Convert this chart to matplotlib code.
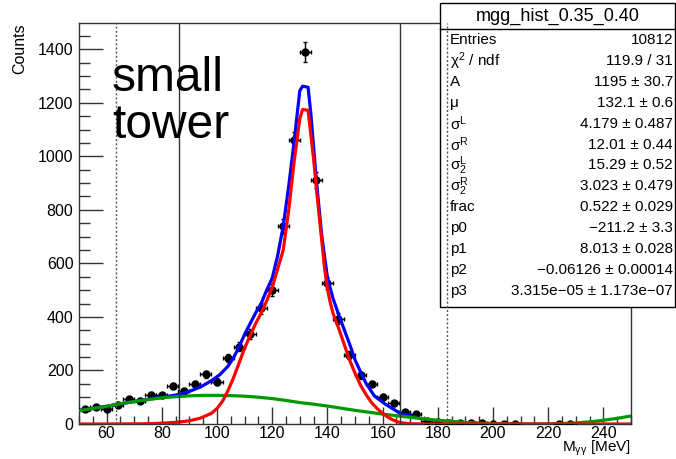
import numpy as np
import matplotlib
matplotlib.use('Agg')
import matplotlib.pyplot as plt
from matplotlib.patches import Rectangle
from matplotlib.ticker import MultipleLocator

plt.rcParams['font.family'] = ['Liberation Sans', 'DejaVu Sans']
plt.rcParams['mathtext.fontset'] = 'custom'
plt.rcParams['mathtext.rm'] = 'Liberation Sans'
plt.rcParams['mathtext.it'] = 'Liberation Sans'

# histogram bin centres (4 MeV bins) and counts
bin_centers = list(range(52, 252, 4))
counts = [57, 64, 55, 72, 92, 86, 108, 107, 142, 123,
          149, 186, 158, 246, 288, 336, 432, 502, 738, 1060,
          1389, 910, 527, 394, 257, 182, 149, 101, 77, 46,
          39, 12, 9, 5, 4, 2, 3, 1, 1, 1,
          0, 0, 0, 1, 1, 0, 0, 0, 0, 0]

# total fit (blue)
total_x = [50, 60, 70, 80, 85, 88, 90, 94, 98, 101, 104, 106, 108, 110, 112, 114, 116,
           118, 120, 122, 124, 126, 128, 130, 131, 133, 134, 136, 138, 140, 142, 144,
           146, 148, 150, 152, 154, 157, 161, 164, 166, 170, 172]
total_y = [50, 66, 84, 100, 108, 116, 122, 138, 162, 184, 216, 248, 288, 335, 375, 415, 450,
           500, 545, 630, 740, 890, 1060, 1245, 1262, 1258, 1160, 910, 700, 548, 470, 411,
           355, 300, 240, 195, 152, 105, 74, 55, 42, 31, 27]

# signal component (red)
signal_x = [50, 60, 70, 75, 80, 85, 90, 94, 98, 100, 102, 104, 106, 108, 110, 112, 114,
            116, 118, 120, 122, 124, 126, 128, 130, 131, 133, 134, 135, 136, 137, 138,
            139, 140, 141, 142, 143, 144, 146, 148, 150, 152, 154, 156, 158, 160, 162,
            164, 166, 168, 170, 175, 250]
signal_y = [0, 0, 0.5, 1, 3, 6, 12, 22, 40, 58, 85, 125, 173, 228, 283, 330, 375,
            415, 460, 510, 580, 650, 800, 985, 1140, 1175, 1172, 1080, 990, 880, 780, 680,
            580, 505, 455, 415, 385, 360, 300, 240, 190, 145, 110, 80, 58, 40, 25,
            14, 6, 3, 1, 0, 0]

# background component (green)
bkg_x = [50, 55, 60, 65, 70, 75, 80, 85, 90, 95, 100, 105, 110, 115, 120, 125, 130, 135,
         140, 145, 150, 155, 160, 165, 170, 175, 180, 185, 190, 195, 200, 205, 210, 215,
         220, 225, 230, 235, 240, 245, 250]
bkg_y = [50, 58, 66, 76, 84, 91, 98, 102, 105, 107, 107, 106, 104, 100, 95, 88, 80, 74,
         67, 59, 51, 44, 37, 31, 25, 19, 14, 10, 6, 3, 1.5, 0.5, 0, 0,
         0.5, 1.5, 4, 8, 14, 21, 30]

solid_lines = [86.3, 166.3]
dotted_lines = [63.5, 183.5]

stats_title = 'mgg_hist_0.35_0.40'
stats_names = ['Entries', r'χ$^{2}$ / ndf', 'A', 'μ', r'σ$^{\rm L}$', r'σ$^{\rm R}$',
               r'σ$^{\rm L}_{2}$', r'σ$^{\rm R}_{2}$', 'frac', 'p0', 'p1', 'p2', 'p3']
stats_values = ['10812', '119.9 / 31', '1195 ± 30.7', '132.1 ± 0.6', '4.179 ± 0.487',
                '12.01 ± 0.44', '15.29 ± 0.52', '3.023 ± 0.479', '0.522 ± 0.029',
                '−211.2 ± 3.3', '8.013 ± 0.028', '−0.06126 ± 0.00014',
                '3.315e−05 ± 1.173e−07']

W, H = 676, 459
fig = plt.figure(figsize=(W / 100, H / 100), dpi=100)
ax = fig.add_axes([79 / W, 1 - 424 / H, (631 - 79) / W, (424 - 23) / H])

x = np.array(bin_centers, dtype=float)
y = np.array(counts, dtype=float)
m = y > 0
ax.errorbar(x[m], y[m], xerr=2, yerr=np.sqrt(y[m]), fmt='o', color='black', ms=5,
            elinewidth=1, capsize=1.5, capthick=1, zorder=3)

ax.plot(total_x, total_y, color='#0000ff', lw=2.3, zorder=3.1)
ax.plot(bkg_x, bkg_y, color='#009900', lw=2.3, zorder=3.2)
ax.plot(signal_x, signal_y, color='#ff0000', lw=2.3, zorder=3.3)

for v in solid_lines:
    ax.axvline(v, color='#333333', lw=1, zorder=7)
for v in dotted_lines:
    ax.axvline(v, color='#555555', lw=1, ls=(0, (1.5, 1.5)), zorder=7)

ax.set_xlim(50, 250)
ax.set_ylim(0, 1498)
ax.xaxis.set_major_locator(MultipleLocator(20))
ax.xaxis.set_minor_locator(MultipleLocator(5))
ax.yaxis.set_major_locator(MultipleLocator(200))
ax.yaxis.set_minor_locator(MultipleLocator(50))
ax.tick_params(axis='both', which='both', direction='in', labelsize=11.5, width=1,
               colors='#333333', labelcolor='black')
ax.tick_params(axis='x', which='major', length=12, pad=1.5)
ax.tick_params(axis='x', which='minor', length=6)
ax.tick_params(axis='y', which='major', length=17, pad=4)
ax.tick_params(axis='y', which='minor', length=8)
for s in ax.spines.values():
    s.set_color('#333333')
    s.set_linewidth(1)

fig.text(20 / W, 1 - 23 / H, 'Counts', rotation=90, ha='center', va='top', fontsize=11.5)
fig.text(631 / W, 1 - 458 / H, r'M$_{\gamma\gamma}$ [MeV]', ha='right', va='bottom',
         fontsize=11)

fig.text(112 / W, 1 - 56 / H, 'small\ntower', ha='left', va='top', fontsize=34.5,
         linespacing=1.05)

# stats box
bx0, bx1, by0, by1 = 440, 675, 3, 307
ax.add_patch(Rectangle((bx0 / W, 1 - by1 / H), (bx1 - bx0) / W, (by1 - by0) / H,
                       transform=fig.transFigure, clip_on=False, facecolor='white',
                       edgecolor='black', lw=1, zorder=5))
ax.plot([bx0 / W, bx1 / W], [1 - 29 / H, 1 - 29 / H], transform=fig.transFigure,
        clip_on=False, color='black', lw=1, zorder=6)
ax.text((bx0 + bx1) / 2 / W, 1 - 16 / H, stats_title, transform=fig.transFigure,
        ha='center', va='center', fontsize=13, zorder=6)
for i, (nm, val) in enumerate(zip(stats_names, stats_values)):
    yy = 1 - (40 + 20.9 * i) / H
    ax.text(450 / W, yy, nm, transform=fig.transFigure, ha='left', va='center',
            fontsize=11, zorder=6)
    ax.text(673 / W, yy, val, transform=fig.transFigure, ha='right', va='center',
            fontsize=11, zorder=6)

fig.savefig('out.png', dpi=100)
